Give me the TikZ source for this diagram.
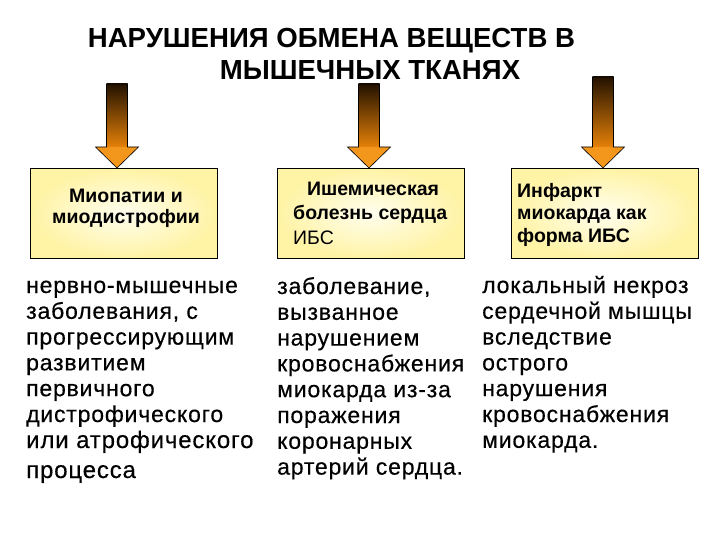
\documentclass[tikz,border=0pt]{standalone}
\usepackage{fontspec}
\setmainfont{Liberation Sans}
\newfontfamily\spacedfont[LetterSpace=3.5,FakeBold=0.4]{Liberation Sans}
\usetikzlibrary{calc}
\definecolor{boxedge}{RGB}{255,243,165}
\definecolor{boxin}{RGB}{255,254,238}
\definecolor{shafttop}{RGB}{35,18,0}
\definecolor{shaftbot}{RGB}{228,128,8}
\definecolor{headfill}{RGB}{242,150,28}
\newcommand\blockarrow[2]{%
  \shade[top color=shafttop,bottom color=shaftbot]
    let \p1=(#1), \p2=(#1 |- #2.north) in
    (\x1-10.5pt,\y1) rectangle (\x1+10.5pt,\y2+21pt);
  \fill[headfill]
    let \p1=(#1), \p2=(#1 |- #2.north) in
    (\x1-21.5pt,\y2+21pt) -- (\x1+21.5pt,\y2+21pt) -- (\x2,\y2) -- cycle;
  \draw[arrowline]
    let \p1=(#1), \p2=(#1 |- #2.north) in
    (\x1-10.5pt,\y1) -- (\x1+10.5pt,\y1) -- (\x1+10.5pt,\y2+21pt)
    -- (\x1+21.5pt,\y2+21pt) -- (\x2,\y2) -- (\x1-21.5pt,\y2+21pt)
    -- (\x1-10.5pt,\y2+21pt) -- cycle;
}
\begin{document}
\begin{tikzpicture}[x=1pt,y=-1pt,
  yellowbox/.style={draw=black,line width=0.8pt,shading=radial,
    inner color=boxin,outer color=boxedge,
    minimum width=187pt,minimum height=90pt,anchor=north west,inner sep=0pt},
  arrowline/.style={draw=black,line width=0.6pt,line join=miter},
  titletext/.style={font=\fontsize{27.6}{32}\selectfont\bfseries,anchor=base,inner sep=0pt},
  boxtext/.style={font=\fontsize{19.5}{22}\selectfont\bfseries,inner sep=0pt},
  boxplain/.style={font=\fontsize{19.5}{22}\selectfont,inner sep=0pt},
  bodytext/.style={font=\spacedfont\fontsize{23}{26}\selectfont,anchor=base west,inner sep=0pt},
  bodybig/.style={font=\spacedfont\fontsize{24}{26}\selectfont,anchor=base west,inner sep=0pt}]
\useasboundingbox (0,0) rectangle (720,540);
\fill[white] (0,0) rectangle (720,540);

% title
\node[titletext] (title1) at (331.5,48) {НАРУШЕНИЯ ОБМЕНА ВЕЩЕСТВ В};
\node[titletext] (title2) at (370,80) {МЫШЕЧНЫХ ТКАНЯХ};

% boxes
\node[yellowbox] (b1) at (30,168) {};
\node[yellowbox] (b2) at (277,168) {};
\node[yellowbox] (b3) at (511,168) {};

% arrows
\coordinate (a1) at (117,84);
\coordinate (a2) at (369,84);
\coordinate (a3) at (603,77);
\blockarrow{a1}{b1}
\blockarrow{a2}{b2}
\blockarrow{a3}{b3}

% box texts
\node[boxtext,anchor=base] (b1l1) at (126,203) {Миопатии и};
\node[boxtext,anchor=base] (b1l2) at (126,224) {миодистрофии};

\node[boxtext,anchor=base] (b2l1) at (373,196) {Ишемическая};
\node[boxtext,anchor=base west] (b2l2) at (293,220) {болезнь сердца};
\node[boxplain,anchor=base west] (b2l3) at (293,244) {ИБС};

\node[boxtext,anchor=base west] (b3l1) at (517,197) {Инфаркт};
\node[boxtext,anchor=base west] (b3l2) at (517,220) {миокарда как};
\node[boxtext,anchor=base west] (b3l3) at (517,243) {форма ИБС};

% column 1
\foreach \t [count=\i] in {нервно-мышечные,{заболевания, с},прогрессирующим,развитием,первичного,дистрофического}
  \node[bodytext] (c1l\i) at (26,{293+25.8*(\i-1)}) {\t};
\node[bodybig] (c1l7) at (26,448) {или атрофического};
\node[bodybig] (c1l8) at (26,478) {процесса};

% column 2
\foreach \t [count=\i] in {{заболевание,},вызванное,нарушением,кровоснабжения,миокарда из-за,поражения,коронарных,артерий сердца.}
  \node[bodytext] (c2l\i) at (277,{294+25.8*(\i-1)}) {\t};

% column 3
\foreach \t [count=\i] in {локальный некроз,сердечной мышцы,вследствие,острого,нарушения,кровоснабжения,миокарда.}
  \node[bodytext] (c3l\i) at (482,{293+25.8*(\i-1)}) {\t};
\end{tikzpicture}
\end{document}
